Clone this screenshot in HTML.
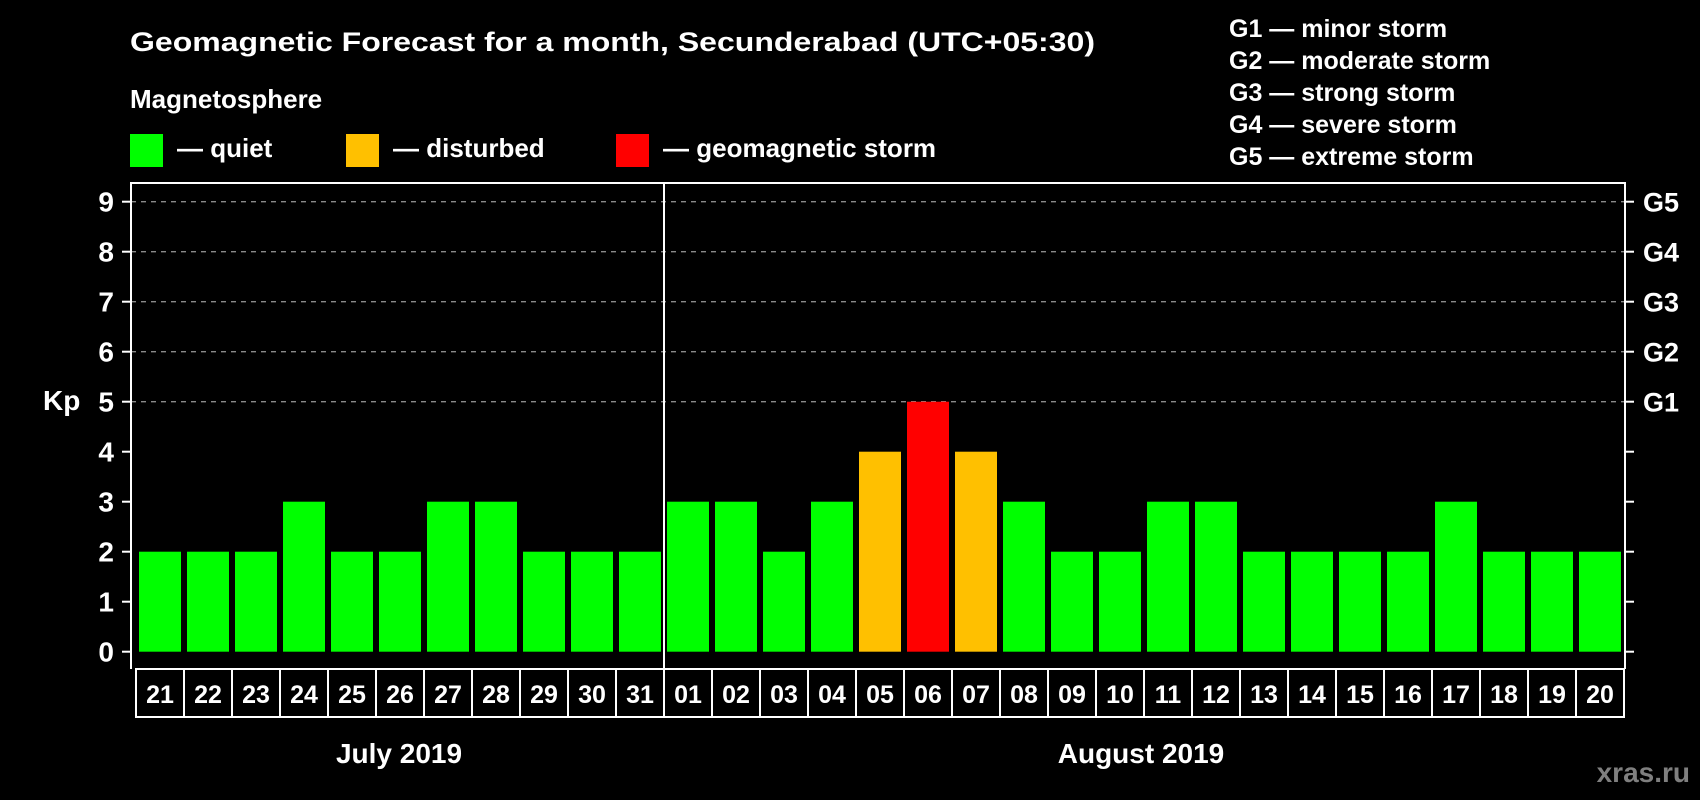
<!DOCTYPE html>
<html><head><meta charset="utf-8"><style>
html,body{margin:0;padding:0;background:#000;width:1700px;height:800px;overflow:hidden}
svg{display:block;font-family:"Liberation Sans",Arial,sans-serif;font-weight:bold}
</style></head><body>
<svg id="chart" width="1700" height="800" viewBox="0 0 1700 800">
<rect width="1700" height="800" fill="#000"/>
<text x="130" y="51" fill="#fff" font-size="27" textLength="965" lengthAdjust="spacingAndGlyphs">Geomagnetic Forecast for a month, Secunderabad (UTC+05:30)</text>
<text x="130" y="108" fill="#fff" font-size="26">Magnetosphere</text>
<g>
<rect x="130" y="134" width="33" height="33" fill="#00ff00"/>
<text x="177" y="157" fill="#fff" font-size="26">— quiet</text></g>
<g>
<rect x="346" y="134" width="33" height="33" fill="#ffc000"/>
<text x="393" y="157" fill="#fff" font-size="26">— disturbed</text></g>
<g>
<rect x="616" y="134" width="33" height="33" fill="#ff0000"/>
<text x="663" y="157" fill="#fff" font-size="26">— geomagnetic storm</text></g>
<g fill="#fff" font-size="25">
<text x="1229" y="37">G1 — minor storm</text>
<text x="1229" y="69">G2 — moderate storm</text>
<text x="1229" y="101">G3 — strong storm</text>
<text x="1229" y="133">G4 — severe storm</text>
<text x="1229" y="165">G5 — extreme storm</text>
</g>
<text x="43" y="410" fill="#fff" font-size="28">Kp</text>
<g id="plot"></g>
<text x="399" y="763" fill="#fff" font-size="28" text-anchor="middle">July 2019</text>
<text x="1141" y="763" fill="#fff" font-size="28" text-anchor="middle">August 2019</text>
<text x="1690" y="782" fill="#7f7f7f" font-size="28" text-anchor="end">xras.ru</text>
</svg>
<script>
const days = ["21","22","23","24","25","26","27","28","29","30","31","01","02","03","04","05","06","07","08","09","10","11","12","13","14","15","16","17","18","19","20"];
const kpValues = [2,2,2,3,2,2,3,3,2,2,2,3,3,2,3,4,5,4,3,2,2,3,3,2,2,2,2,3,2,2,2];
const yTicks = [0,1,2,3,4,5,6,7,8,9];
const gLabels = ["","","","","","G1","G2","G3","G4","G5"];
const monthBreakIndex = 11;

const NS = "http://www.w3.org/2000/svg";
const g = document.getElementById("plot");
const L = 131, R = 1625, T = 183, B = 669, slot0 = 136, slotW = 48;
const y = v => 651.7 - v * 50;
const x = i => slot0 + i * slotW;
function mk(tag, attrs){ const e = document.createElementNS(NS, tag); for (const k in attrs) e.setAttribute(k, attrs[k]); g.appendChild(e); return e; }
function color(v){ return v >= 5 ? "#ff0000" : (v >= 4 ? "#ffc000" : "#00ff00"); }

yTicks.forEach((t, i) => {
  if (t >= 5) {
    const gl = mk("line", {x1: L, x2: R, y1: y(t), y2: y(t), stroke: "#8a8a8a", "stroke-width": 1.3, "stroke-dasharray": "5,5"});
    
    
  }
  const tl = mk("line", {x1: 122, x2: L, y1: y(t), y2: y(t), stroke: "#fff", "stroke-width": 2});
  
  
  const tr = mk("line", {x1: R, x2: 1634, y1: y(t), y2: y(t), stroke: "#fff", "stroke-width": 2});
  
  
  const lab = mk("text", {x: 114, y: y(t) + 10, fill: "#fff", "font-size": 28, "text-anchor": "end"});
  lab.textContent = t;
  
  
  if (gLabels[i]) {
    const gt = mk("text", {x: 1643, y: y(t) + 10, fill: "#fff", "font-size": 27});
    gt.textContent = gLabels[i];
    
    
  }
});

kpValues.forEach((v, i) => {
  const b = mk("rect", {x: x(i) + 3, y: y(v), width: slotW - 6, height: y(0) - y(v), fill: color(v)});
  
  
  const box = mk("rect", {x: x(i), y: B, width: slotW, height: 48, fill: "none", stroke: "#fff", "stroke-width": 2});
  
  
  const dt = mk("text", {x: x(i) + slotW / 2, y: B + 34, fill: "#fff", "font-size": 25, "text-anchor": "middle"});
  dt.textContent = days[i];
  
  
});

const frame = mk("path", {d: `M${L},${B} V${T} H${R} V${B}`, fill: "none", stroke: "#fff", "stroke-width": 2});


const sep = mk("line", {x1: x(monthBreakIndex), x2: x(monthBreakIndex), y1: T, y2: B, stroke: "#fff", "stroke-width": 2});


</script>
</body></html>
